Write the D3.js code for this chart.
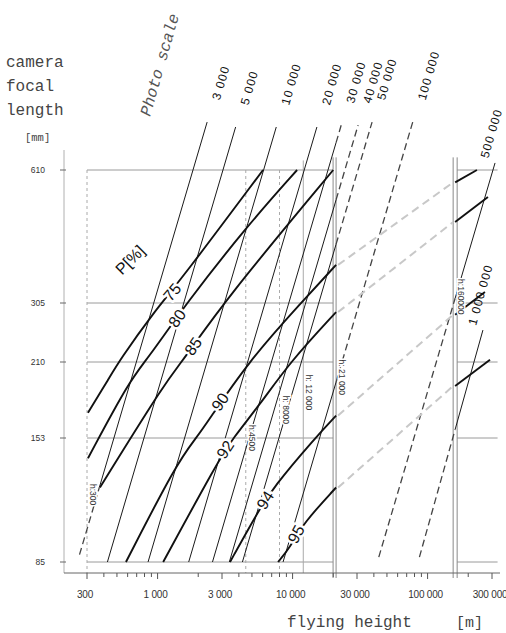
<!DOCTYPE html>
<html><head><meta charset="utf-8">
<script src="https://cdn.jsdelivr.net/npm/d3@7"></script>
<style>html,body{margin:0;padding:0;background:#fff;}svg{display:block}</style>
</head><body>
<svg id="chart" width="506" height="633"></svg>
<script>
// ---------------- data ----------------
const focalTicks = [85, 153, 210, 305, 610];                     // camera focal length [mm]
const heightTicks = [300, 1000, 3000, 10000, 30000, 100000, 300000]; // flying height [m]
const heightTickLabels = ["300", "1 000", "3 000", "10 000", "30 000", "100 000", "300 000"];

const photoScales = [3000, 5000, 10000, 20000, 30000, 40000, 50000, 100000, 500000, 1000000];
const photoScaleLabels = ["3 000", "5 000", "10 000", "20 000", "30 000", "40 000", "50 000", "100 000", "500 000", "1 000 000"];
const scaleTopFocal = [776, 757, 757, 757, 764, 764, 776, 776, 632, 257];
const scaleBottomFocal = [88, 85, 85, 85, 85, 85, 85, 85, 87, 87];
const scaleDashBelowFocal = [121, null, null, null, null, null, null, null, null, null];

const hHeights = [300, 4500, 8000, 12000, 21000, 160000];
const hLabels = ["h:300", "h:4500", "h: 8000", "h: 12 000", "h: 21 000", "h:160000"];
const hLabelFocal = [117, 153, 172, 185, 197, 315];

const pValues = [75, 80, 85, 90, 92, 94, 95];
const pLeft = [
  [[305, 170], [430, 195], [527, 213], [925, 286], [1520, 347], [6040, 610]],
  [[305, 139], [624, 195], [835, 213], [1650, 306], [4680, 458], [10800, 610]],
  [[374, 121], [1170, 195], [1520, 210], [3160, 310], [20000, 610]],
  [[583, 85], [1390, 136], [1930, 153], [2320, 163], [4680, 210], [11540, 305], [21000, 372]],
  [[1100, 85], [2760, 136], [3620, 153], [5740, 176], [9570, 210], [21000, 288]],
  [[3440, 85], [5450, 107], [7160, 121], [14660, 153], [21000, 168]],
  [[7800, 85], [9570, 91], [11940, 102], [21000, 121]]
];
const pRight = [null, null, null,
  [[160000, 572], [232000, 610]],
  [[160000, 465], [280000, 530]],
  [[160000, 283], [266000, 323]],
  [[160000, 190], [290000, 213]]
];
const pLabelAt = [[1280, 323], [1390, 277], [1830, 232], [2900, 178], [3160, 145], [6250, 114], [10600, 97]];
const pTitleAt = [625, 382];
const panelBreaks = [21000, 160000];
const rightEdge = 330000;

// ---------------- scales ----------------
const svg = d3.select("#chart");
const x = d3.scaleLog().domain([300, 300000]).range([87, 87 + 135 * 3]);
const y = d3.scaleLog().domain([85, 153, 210, 305, 610, 800]).range([562, 438, 362, 303, 170, 116]);
const axisY = 573;
const px = d => [x(d[0]), y(d[1])];
const xb0 = x(panelBreaks[0]), xb1 = x(panelBreaks[1]);

const g = svg.append("g");

// ---------------- grid ----------------
focalTicks.forEach(f => {
  g.append("line").attr("x1", x(300)).attr("x2", xb0 - 3).attr("y1", y(f)).attr("y2", y(f))
    .attr("stroke", "#9a9a9a").attr("stroke-width", 1);
  g.append("line").attr("x1", xb1 + 2).attr("x2", x(rightEdge)).attr("y1", y(f)).attr("y2", y(f))
    .attr("stroke", "#9a9a9a").attr("stroke-width", 1);
});
// vertical flying-height lines
hHeights.forEach((h, i) => {
  const xx = x(h);
  if (h === panelBreaks[0] || h === panelBreaks[1]) {
    const offs = h === panelBreaks[0] ? [-3, 0] : [-2, 2];
    offs.forEach(o => g.append("line").attr("x1", xx + o).attr("x2", xx + o)
      .attr("y1", y(650)).attr("y2", axisY + 5).attr("stroke", "#8a8a8a").attr("stroke-width", 1));
  } else if (h === 12000) {
    g.append("line").attr("x1", xx).attr("x2", xx).attr("y1", y(640)).attr("y2", axisY)
      .attr("stroke", "#aaa").attr("stroke-width", 1);
  } else {
    g.append("line").attr("x1", xx).attr("x2", xx).attr("y1", y(610)).attr("y2", axisY)
      .attr("stroke", "#aaa").attr("stroke-width", 1).attr("stroke-dasharray", "3,3");
  }
});

// ---------------- axes ----------------
g.append("line").attr("x1", 64).attr("x2", 64).attr("y1", 150).attr("y2", axisY)
  .attr("stroke", "#b0b0b0").attr("stroke-width", 1);
g.append("line").attr("x1", 64).attr("x2", 500).attr("y1", axisY).attr("y2", axisY)
  .attr("stroke", "#666").attr("stroke-width", 1);
const minor = [];
[100, 1000, 10000, 100000].forEach(dec => { for (let m = 1; m <= 9; m++) { const v = m * dec; if (v >= 300 && v <= rightEdge) minor.push(v); } });
minor.forEach(v => {
  const major = heightTicks.includes(v);
  g.append("line").attr("x1", x(v)).attr("x2", x(v)).attr("y1", axisY).attr("y2", axisY + (major ? 6 : 4))
    .attr("stroke", "#555").attr("stroke-width", 1);
});
heightTicks.forEach((v, i) => {
  g.append("text").attr("x", x(v) - 2).attr("y", 598).attr("text-anchor", "middle")
    .attr("font-family", "Liberation Sans, Arial, sans-serif").attr("font-size", 10).attr("fill", "#333")
    .attr("letter-spacing", -0.2).text(heightTickLabels[i]);
});
focalTicks.forEach(f => {
  g.append("line").attr("x1", 60).attr("x2", 66).attr("y1", y(f)).attr("y2", y(f))
    .attr("stroke", "#666").attr("stroke-width", 1);
  g.append("text").attr("x", 45).attr("y", y(f)).attr("dy", "0.35em").attr("text-anchor", "end")
    .attr("font-family", "Liberation Sans, Arial, sans-serif").attr("font-size", 8.5).attr("fill", "#333")
    .text(f);
});

// ---------------- photo scale lines ----------------
photoScales.forEach((S, i) => {
  const top = px([S * scaleTopFocal[i] / 1000, scaleTopFocal[i]]);
  const bot = px([S * scaleBottomFocal[i] / 1000, scaleBottomFocal[i]]);
  const cuts = [0, 1];
  [xb0, xb1].forEach(b => { const t = (b - bot[0]) / (top[0] - bot[0]); if (t > 0 && t < 1) cuts.push(t); });
  const db = scaleDashBelowFocal[i];
  if (db) { const t = (y(db) - bot[1]) / (top[1] - bot[1]); if (t > 0 && t < 1) cuts.push(t); }
  cuts.sort((a, b) => a - b);
  for (let k = 0; k < cuts.length - 1; k++) {
    const ta = cuts[k], tb = cuts[k + 1], tm = (ta + tb) / 2;
    const P = t => [bot[0] + t * (top[0] - bot[0]), bot[1] + t * (top[1] - bot[1])];
    const a = P(ta), b = P(tb), m = P(tm);
    const dashed = (m[0] > xb0 && m[0] < xb1) || (db && m[1] > y(db));
    g.append("line").attr("x1", a[0]).attr("y1", a[1]).attr("x2", b[0]).attr("y2", b[1])
      .attr("stroke", dashed ? "#444" : "#1a1a1a").attr("stroke-width", dashed ? 1.3 : 1)
      .attr("stroke-dasharray", dashed ? "7,4" : null);
  }
  // label
  const len = Math.hypot(top[0] - bot[0], top[1] - bot[1]);
  const u = [(top[0] - bot[0]) / len, (top[1] - bot[1]) / len];
  const perp = [-u[1], u[0]];
  const ang = Math.atan2(u[1], u[0]) * 180 / Math.PI;
  let ax, ay;
  if (top[0] > xb1) { ax = top[0] - 12 * perp[0] + 2 * u[0]; ay = top[1] - 12 * perp[1] + 2 * u[1]; }
  else { ax = top[0] + 24 * u[0] + 2 * perp[0]; ay = top[1] + 24 * u[1] + 2 * perp[1]; }
  g.append("text").attr("transform", `translate(${ax},${ay}) rotate(${ang})`)
    .attr("dy", "0.35em").attr("text-anchor", "start")
    .attr("font-family", "Liberation Sans, Arial, sans-serif").attr("font-size", 12)
    .attr("letter-spacing", 1).attr("fill", "#111").text(photoScaleLabels[i]);
});

// ---------------- P curves ----------------
const line = d3.line().x(d => x(d[0])).y(d => y(d[1])).curve(d3.curveBasis);
pValues.forEach((p, i) => {
  g.append("path").attr("d", line(pLeft[i])).attr("fill", "none")
    .attr("stroke", "#111").attr("stroke-width", 1.9);
  if (pRight[i]) {
    const a = pLeft[i][pLeft[i].length - 1], b = pRight[i][0];
    g.append("line").attr("x1", x(a[0]) + 2).attr("y1", y(a[1])).attr("x2", x(b[0]) - 2).attr("y2", y(b[1]))
      .attr("stroke", "#c8c8c8").attr("stroke-width", 2).attr("stroke-dasharray", "8,5");
    g.append("path").attr("d", line(pRight[i])).attr("fill", "none")
      .attr("stroke", "#111").attr("stroke-width", 1.9);
  }
});

// h labels
hHeights.forEach((h, i) => {
  g.append("text").attr("transform", `translate(${x(h) + 6},${y(hLabelFocal[i])}) rotate(90)`)
    .attr("dy", "0.35em").attr("text-anchor", "middle")
    .attr("font-family", "Liberation Sans, Arial, sans-serif").attr("font-size", 8.5).attr("fill", "#333")
    .attr("paint-order", "stroke").attr("stroke", "#fff").attr("stroke-width", 3)
    .text(hLabels[i]);
});

// P labels
pValues.forEach((p, i) => {
  const L = pLabelAt[i];
  const pts = pLeft[i];
  let k = 0;
  while (k < pts.length - 2 && pts[k + 1][0] < L[0]) k++;
  const a = px(pts[k]), b = px(pts[k + 1]);
  const ang = Math.atan2(b[1] - a[1], b[0] - a[0]) * 180 / Math.PI;
  g.append("text").attr("transform", `translate(${x(L[0])},${y(L[1])}) rotate(${ang})`)
    .attr("dy", "0.36em").attr("text-anchor", "middle")
    .attr("font-family", "Liberation Sans, Arial, sans-serif").attr("font-size", 16).attr("fill", "#111")
    .attr("paint-order", "stroke").attr("stroke", "#fff").attr("stroke-width", 5).attr("stroke-linejoin", "round")
    .text(p);
});
g.append("text").attr("transform", `translate(${x(pTitleAt[0])},${y(pTitleAt[1])}) rotate(-45)`)
  .attr("dy", "0.35em").attr("text-anchor", "middle")
  .attr("font-family", "Liberation Sans, Arial, sans-serif").attr("font-size", 16).attr("fill", "#111")
  .text("P[%]");

// ---------------- titles ----------------
const mono = "Liberation Mono, DejaVu Sans Mono, monospace";
[["camera", 67], ["focal", 91], ["length", 115]].forEach(([t, yy]) =>
  svg.append("text").attr("x", 6).attr("y", yy).attr("font-family", mono).attr("font-size", 16)
    .attr("fill", "#444").text(t));
svg.append("text").attr("x", 25).attr("y", 141).attr("font-family", mono).attr("font-size", 10.5)
  .attr("fill", "#444").text("[mm]");
svg.append("text").attr("transform", "translate(150,117) rotate(-74)")
  .attr("font-family", mono).attr("font-size", 16).attr("font-style", "italic")
  .attr("fill", "#555").text("Photo scale");
svg.append("text").attr("x", 287).attr("y", 627).attr("font-family", mono).attr("font-size", 16)
  .attr("fill", "#444").text("flying height");
svg.append("text").attr("x", 456).attr("y", 627).attr("font-family", mono).attr("font-size", 15)
  .attr("fill", "#444").text("[m]");
</script>
</body></html>
